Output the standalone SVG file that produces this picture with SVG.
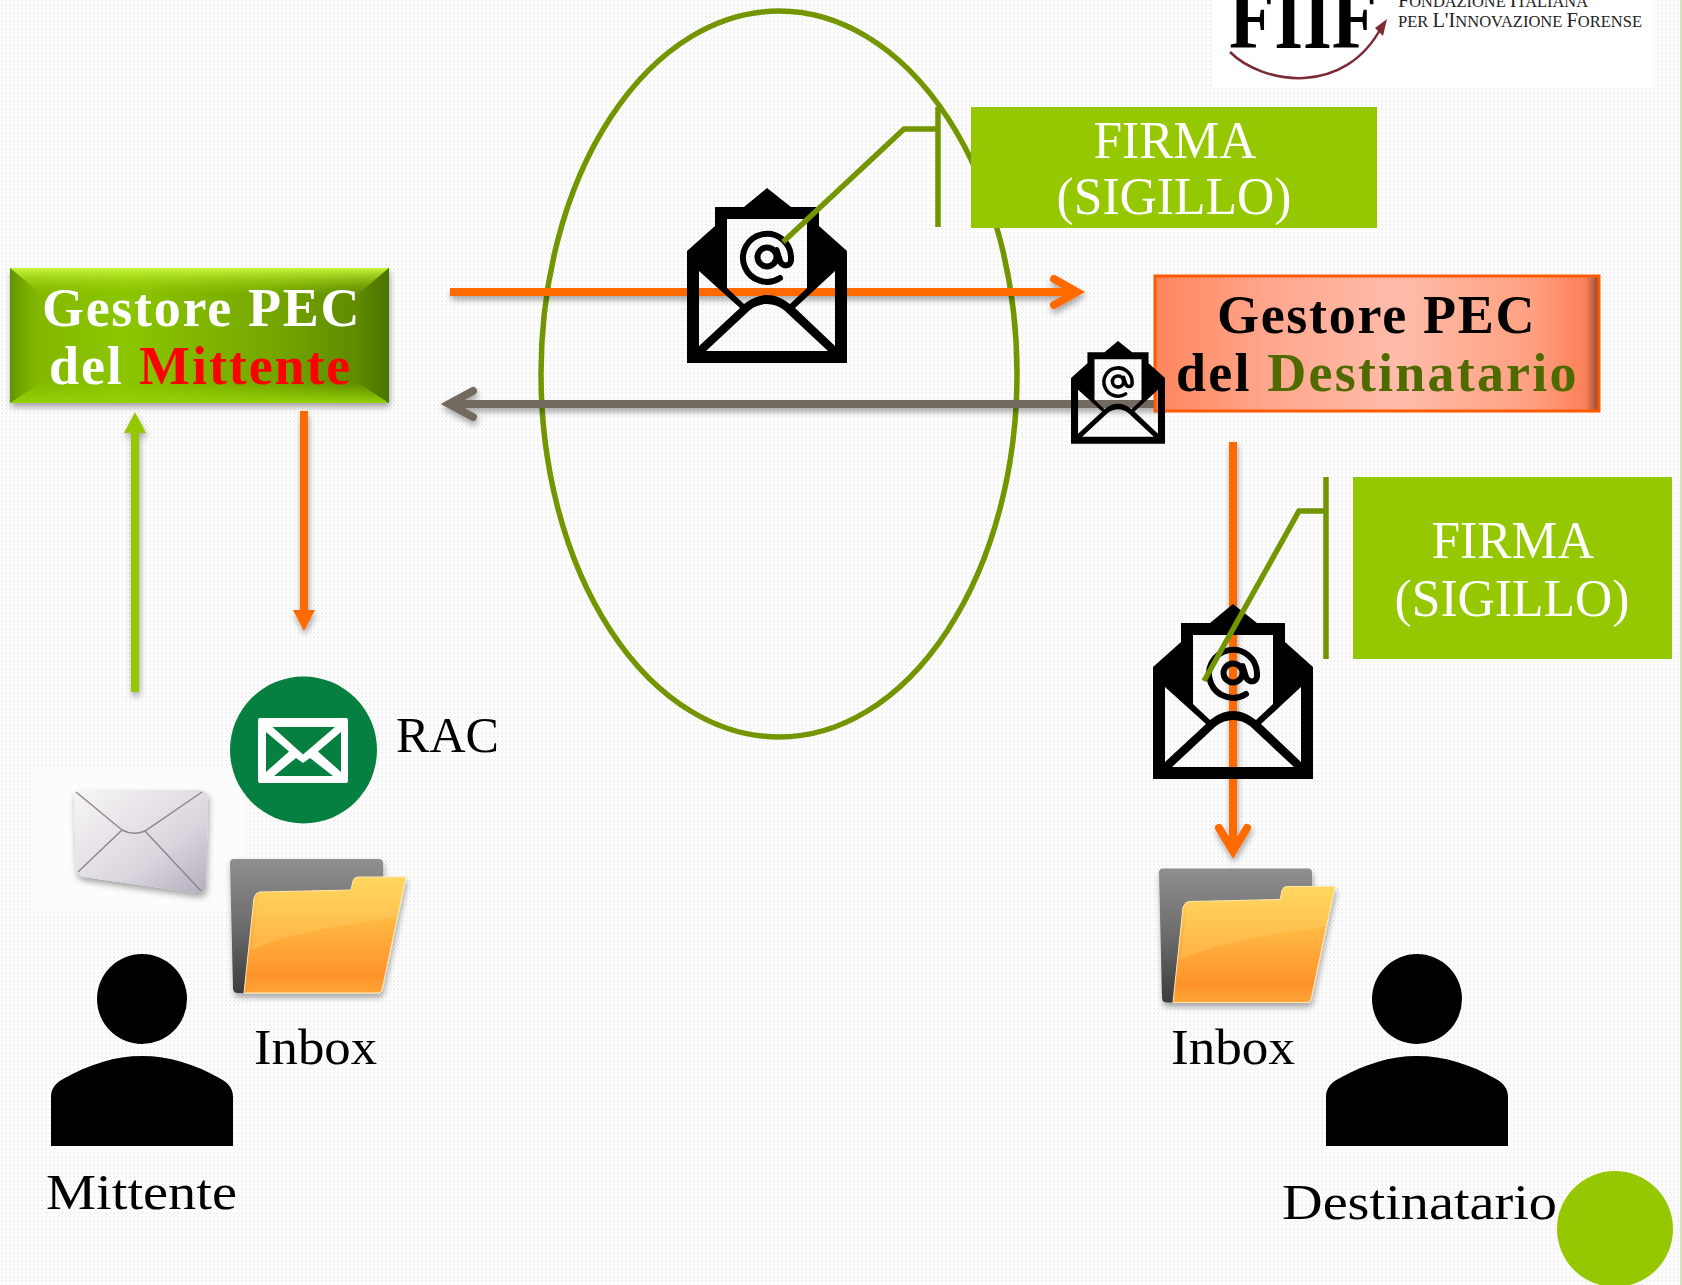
<svg xmlns="http://www.w3.org/2000/svg" xmlns:xlink="http://www.w3.org/1999/xlink" width="1682" height="1285" viewBox="0 0 1682 1285">
<style>
text{font-family:"Liberation Serif","DejaVu Serif",serif}
.lbl{font-size:51px;fill:#000}
.firma{font-size:53px;fill:#fff;text-anchor:middle}
.gest{font-size:54px;font-weight:bold}
.call{fill:none;stroke:#739600;stroke-width:5.500}
.logo{font-size:17px;fill:#222}
.logo tspan{font-size:21px}
</style>
<defs>
<pattern id="bg" width="4" height="4" patternUnits="userSpaceOnUse"><rect width="4" height="4" fill="#fff"/><rect x="1" y="0" width="2" height="2" fill="#f1f1f1"/><rect x="3" y="2" width="1" height="2" fill="#f6f6f6"/></pattern>
<filter id="sh" x="-20%" y="-20%" width="140%" height="140%" filterUnits="objectBoundingBox"><feDropShadow dx="1" dy="4" stdDeviation="3" flood-color="#000" flood-opacity=".35"/></filter>
<filter id="shu" filterUnits="userSpaceOnUse" x="0" y="0" width="1682" height="1285"><feDropShadow dx="1" dy="4" stdDeviation="3" flood-color="#000" flood-opacity=".35"/></filter>
<linearGradient id="gm"><stop offset="0" stop-color="#7fb400"/><stop offset=".3" stop-color="#8cc600"/><stop offset=".7" stop-color="#74a600"/><stop offset="1" stop-color="#568000"/></linearGradient>
<linearGradient id="gt" x2="0" y2="1"><stop offset="0" stop-color="#c8f63e"/><stop offset="1" stop-color="#90c800" stop-opacity="0"/></linearGradient>
<linearGradient id="gb" x2="0" y2="1"><stop offset="0" stop-color="#8ccc00" stop-opacity="0"/><stop offset="1" stop-color="#96d20a"/></linearGradient>
<linearGradient id="gl"><stop offset="0" stop-color="#5f9000"/><stop offset="1" stop-color="#80b800" stop-opacity="0"/></linearGradient>
<linearGradient id="gr"><stop offset="0" stop-color="#4f7c00" stop-opacity="0"/><stop offset="1" stop-color="#4c7400"/></linearGradient>
<linearGradient id="gd"><stop offset="0" stop-color="#ff855c"/><stop offset=".25" stop-color="#ffa68c"/><stop offset=".55" stop-color="#ffbcaa"/><stop offset=".85" stop-color="#ffa080"/><stop offset=".97" stop-color="#fb8058"/><stop offset="1" stop-color="#8a4a30"/></linearGradient>
<linearGradient id="fb" x2="0" y2="1"><stop offset="0" stop-color="#8f8f8f"/><stop offset=".5" stop-color="#6c6c6c"/><stop offset="1" stop-color="#3c3c40"/></linearGradient>
<linearGradient id="ff" x2="0" y2="1"><stop offset="0" stop-color="#ffd858"/><stop offset=".5" stop-color="#ffae3c"/><stop offset=".85" stop-color="#ff922a"/><stop offset="1" stop-color="#ffa636"/></linearGradient>
<linearGradient id="mf" x2="1" y2="1"><stop offset="0" stop-color="#f8f6f7"/><stop offset=".6" stop-color="#dcd7df"/><stop offset="1" stop-color="#b4adbe"/></linearGradient>
<symbol id="env" overflow="visible">
<path fill-rule="evenodd" d="M80 0L104 19H132V38L160 63V175H0V63L28 38V19H57ZM40 31V100L57 116C65 110 72 107 80 107C88 107 95 110 103 116L120 100V31ZM12 83V158L53 120ZM148 83L108 120L148 158ZM19 163H141L97 122C92 118 86 116 80 116C74 116 68 118 63 122Z"/>
<circle cx="80" cy="69" r="9.500" fill="none" stroke="#000" stroke-width="6"/>
<path d="M93 90A24 24 0 1 1 104 69V72C104 79 95 79 93 73L89.500 62" fill="none" stroke="#000" stroke-width="6" stroke-linecap="round"/>
</symbol>
<symbol id="folder" overflow="visible">
<path d="M234 859H379Q383 859 383 863V960L260 993H238Q233 993 233 988L230 863Q230 859 234 859Z" fill="url(#fb)"/>
<path d="M260 892Q256 892 254 898L244 993H378Q381 993 382 990L406 877H358Q354 877 353 881L351 890Z" fill="url(#ff)" stroke="#ffe9b8" stroke-width="1"/>
<path d="M258 898Q257 892 262 892L351 890L353 881Q354 877 358 877H406L397 917C340 925 290 933 251 950Z" fill="#ffd870" opacity=".3"/>
</symbol>
<symbol id="person" overflow="visible">
<circle cx="142" cy="999" r="45"/>
<path d="M51 1146V1097C51 1088 56 1083 63 1079C90 1064 115 1056 142 1056C169 1056 195 1064 221 1079C228 1083 233 1088 233 1097V1146Z"/>
</symbol>
</defs>
<rect id="background" width="1682" height="1285" fill="url(#bg)"/>
<rect x="1680" y="0" width="2" height="1285" fill="#d6e4c2"/>

<g id="logo">
<rect x="1212" y="0" width="443" height="88" fill="#fff"/>
<text x="1229" y="48" font-size="92" font-weight="bold" textLength="148" lengthAdjust="spacingAndGlyphs" style="fill:#000">FIIF</text>
<path d="M1230 52C1262 84 1345 98 1382 26" fill="none" stroke="#7b2b33" stroke-width="2.500"/>
<path d="M1387 19L1375 28L1383 36Z" fill="#7b2b33"/>
<text class="logo" x="1398" y="7" textLength="190" lengthAdjust="spacingAndGlyphs"><tspan>F</tspan>ONDAZIONE <tspan>I</tspan>TALIANA</text>
<text class="logo" x="1398" y="27" textLength="244" lengthAdjust="spacingAndGlyphs">PER <tspan>L'I</tspan>NNOVAZIONE <tspan>F</tspan>ORENSE</text>
</g>

<ellipse id="oval" cx="779" cy="374" rx="238" ry="363" fill="none" stroke="#739600" stroke-width="5.500"/>

<g id="connectors">
<g filter="url(#shu)">
<path d="M450 292H1076" fill="none" stroke="#ff6a00" stroke-width="8"/>
<path d="M1054 279L1077 292L1054 305" fill="none" stroke="#ff6a00" stroke-width="8" stroke-linecap="round"/>
</g>
<g filter="url(#shu)">
<path d="M1160 404H452" fill="none" stroke="#736a5e" stroke-width="8"/>
<path d="M473 391L449 404L473 417" fill="none" stroke="#736a5e" stroke-width="8" stroke-linecap="round"/>
</g>
<g filter="url(#shu)">
<path d="M135 692V430" fill="none" stroke="#95c800" stroke-width="8"/>
<path d="M135 412L146 433H124Z" fill="#95c800"/>
</g>
<g filter="url(#shu)">
<path d="M304 411V612" fill="none" stroke="#ff6a00" stroke-width="8"/>
<path d="M304 631L293 610H315Z" fill="#ff6a00"/>
</g>
<g filter="url(#shu)">
<path d="M1233 442V850" fill="none" stroke="#ff6a00" stroke-width="8"/>
<path d="M1219 828L1233 851L1247 828" fill="none" stroke="#ff6a00" stroke-width="8" stroke-linecap="round"/>
</g>
</g>

<g id="gestore-mittente">
<g filter="url(#sh)"><rect x="10" y="268" width="379" height="135" fill="url(#gm)"/></g>
<path d="M10 268H389L357 295H42Z" fill="url(#gt)"/>
<path d="M10 403H389L357 382H42Z" fill="url(#gb)"/>
<path d="M10 268L42 295V382L10 403Z" fill="url(#gl)"/>
<path d="M389 268L357 295V382L389 403Z" fill="url(#gr)"/>
<text class="gest" x="42" y="326" fill="#fff" letter-spacing="1.700">Gestore PEC</text>
<text class="gest" x="49" y="384" fill="#fff" letter-spacing="1.900">del <tspan fill="#ff0000">Mittente</tspan></text>
</g>

<g id="gestore-destinatario">
<rect x="1155" y="276" width="444" height="135" fill="url(#gd)" stroke="#ff5a00" stroke-width="3"/>
<text class="gest" x="1217" y="333" fill="#000" letter-spacing="1.700">Gestore PEC</text>
<text class="gest" x="1176" y="391" fill="#000" letter-spacing="2.200">del <tspan fill="#4f6b00">Destinatario</tspan></text>
</g>

<g id="pec-envelope-1"><use href="#env" transform="translate(687 188)"/></g>
<g id="pec-envelope-2"><use href="#env" transform="translate(1071 341) scale(.5875)"/></g>
<g id="pec-envelope-3"><use href="#env" transform="translate(1153 604)"/></g>

<g id="firma-1">
<rect x="971" y="107" width="406" height="121" fill="#95c800"/>
<text class="firma" x="1175" y="158" textLength="163" lengthAdjust="spacingAndGlyphs">FIRMA</text>
<text class="firma" x="1174" y="214" textLength="235" lengthAdjust="spacingAndGlyphs">(SIGILLO)</text>
</g>
<g id="firma-2">
<rect x="1353" y="477" width="319" height="182" fill="#95c800"/>
<text class="firma" x="1513" y="558" textLength="163" lengthAdjust="spacingAndGlyphs">FIRMA</text>
<text class="firma" x="1512" y="616" textLength="235" lengthAdjust="spacingAndGlyphs">(SIGILLO)</text>
</g>

<g id="callouts">
<path class="call" d="M938 107V227M938 129H904L783 242"/>
<path class="call" d="M1326 477V659M1326 511H1299L1204 681"/>
</g>

<g id="mail-icon">
<rect x="32" y="768" width="211" height="142" fill="#fafdf9"/>
<path d="M82 790Q74 789 74 797L76 868Q77 875 84 877L196 893Q206 894 206 885L208 798Q208 790 198 790Z" fill="url(#mf)" filter="url(#sh)"/>
<path d="M76 792L122 830Q133 836 145 831L202 792M78 872L122 830M145 831L201 891" fill="none" stroke="#8d878e" stroke-width="1.500"/>
</g>

<g id="rac">
<circle cx="303.500" cy="750" r="73.500" fill="#058040"/>
<rect x="258" y="718" width="90" height="65" rx="2" fill="#fff"/>
<path d="M272.500 727H335L303 754.500ZM266 732V772L289 751.500ZM341 732V772L318 751.500ZM274 776H333L310 758L303 763L296 758Z" fill="#058040"/>
<text class="lbl" x="396" y="752" textLength="103" lengthAdjust="spacingAndGlyphs">RAC</text>
</g>

<g id="inbox-mittente">
<use href="#folder" filter="url(#shu)"/>
<text class="lbl" x="254" y="1064" textLength="123" lengthAdjust="spacingAndGlyphs">Inbox</text>
</g>
<g id="inbox-destinatario">
<use href="#folder" transform="translate(929 9.500)" filter="url(#shu)"/>
<text class="lbl" x="1171" y="1064" textLength="124" lengthAdjust="spacingAndGlyphs">Inbox</text>
</g>

<g id="mittente">
<use href="#person"/>
<text class="lbl" x="46" y="1209" textLength="191" lengthAdjust="spacingAndGlyphs">Mittente</text>
</g>
<g id="destinatario">
<use href="#person" transform="translate(1275 0)"/>
<text class="lbl" x="1282" y="1219" textLength="275" lengthAdjust="spacingAndGlyphs">Destinatario</text>
</g>

<circle id="corner-dot" cx="1615" cy="1229" r="58" fill="#95c800"/>
</svg>
